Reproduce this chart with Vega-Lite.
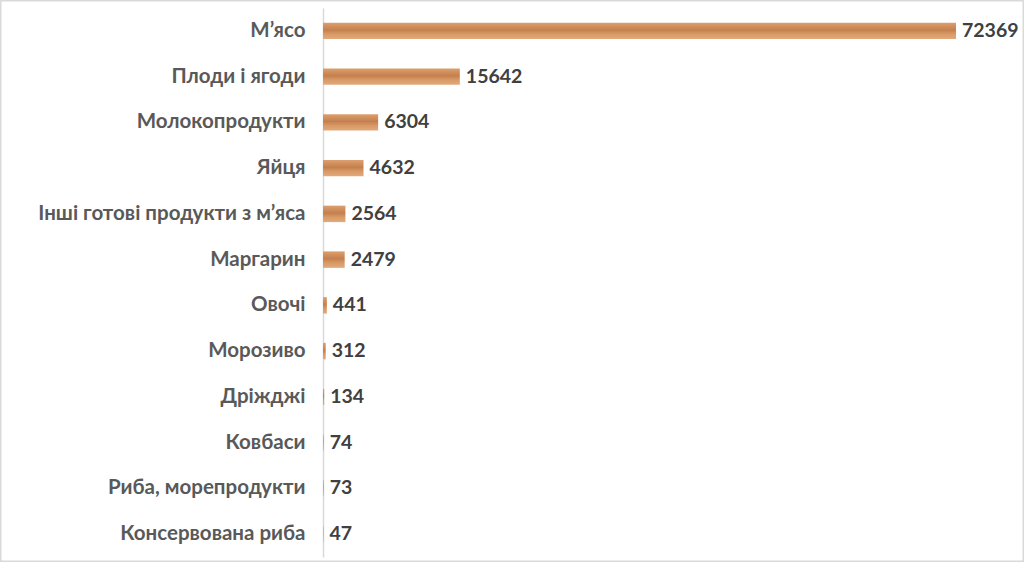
{
  "$schema": "https://vega.github.io/schema/vega-lite/v6.json",
  "width": 1024,
  "height": 562,
  "padding": 0,
  "autosize": {"type": "none"},
  "background": "white",
  "config": {
    "view": {"stroke": "#d9d9d9", "strokeWidth": 3},
    "font": "Lato"
  },
  "data": {
    "values": [
      {"product": "М’ясо", "value": 72369},
      {"product": "Плоди і ягоди", "value": 15642},
      {"product": "Молокопродукти", "value": 6304},
      {"product": "Яйця", "value": 4632},
      {"product": "Інші готові продукти з м’яса", "value": 2564},
      {"product": "Маргарин", "value": 2479},
      {"product": "Овочі", "value": 441},
      {"product": "Морозиво", "value": 312},
      {"product": "Дріжджі", "value": 134},
      {"product": "Ковбаси", "value": 74},
      {"product": "Риба, морепродукти", "value": 73},
      {"product": "Консервована риба", "value": 47}
    ]
  },
  "encoding": {
    "y": {
      "field": "product",
      "type": "nominal",
      "sort": null,
      "title": null,
      "scale": {"range": [8, 557], "paddingInner": 0.64, "paddingOuter": 0.32},
      "axis": {
        "offset": -323,
        "domainColor": "#d9d9d9",
        "domainWidth": 1.5,
        "ticks": false,
        "labelFont": "Lato",
        "labelFontSize": 20.5,
        "labelFontWeight": "bold",
        "labelColor": "#595959",
        "labelPadding": 18,
        "labelLimit": 320
      }
    },
    "x": {
      "field": "value",
      "type": "quantitative",
      "axis": null,
      "scale": {"domain": [0, 72369], "range": [323, 956], "nice": false, "zero": true}
    }
  },
  "layer": [
    {
      "mark": {
        "type": "bar",
        "color": {
          "gradient": "linear",
          "x1": 0, "y1": 0, "x2": 0, "y2": 1,
          "stops": [
            {"offset": 0, "color": "#dca06e"},
            {"offset": 0.45, "color": "#c57f4e"},
            {"offset": 0.7, "color": "#d89a66"},
            {"offset": 1, "color": "#e2aa7c"}
          ]
        }
      }
    },
    {
      "mark": {
        "type": "text",
        "align": "left",
        "baseline": "middle",
        "dx": 6,
        "font": "Lato",
        "fontSize": 19.5,
        "fontWeight": "bold",
        "color": "#404040"
      },
      "encoding": {"text": {"field": "value", "type": "quantitative", "format": "d"}}
    }
  ]
}
